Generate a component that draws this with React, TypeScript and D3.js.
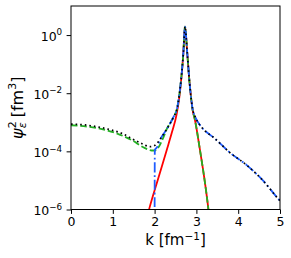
import React, { useEffect, useRef } from 'react';
import * as d3 from 'd3';

// k [fm^-1] and psi^2 [fm^3]
const kRed = [1.85, 1.873, 2.081, 2.289, 2.416, 2.524, 2.596, 2.687, 2.727, 2.782, 2.835, 2.866, 2.907, 2.967, 3.086, 3.206, 3.285, 3.31];
const psiRed = [8e-7, 1.07e-6, 1.1e-5, 1.1e-4, 4.6e-4, 1.8e-3, 8.1e-3, 0.23, 1.95, 0.23, 2.4e-2, 8.5e-3, 2.8e-3, 1.17e-3, 1.1e-4, 8.1e-6, 1.07e-6, 5e-7];

const kGreen = [0, 0.646, 1.12, 1.45, 1.77, 1.93, 2.01, 2.08, 2.2, 2.29, 2.45, 2.54, 2.6, 2.687, 2.727, 2.782, 2.835, 2.866, 2.907, 2.967, 3.086, 3.206, 3.285, 3.31];
const psiGreen = [7.9e-4, 6.2e-4, 4.0e-4, 2.45e-4, 1.29e-4, 1.07e-4, 1.07e-4, 1.29e-4, 2.8e-4, 5.8e-4, 1.5e-3, 3.1e-3, 1.1e-2, 0.23, 1.95, 0.23, 2.4e-2, 8.5e-3, 2.8e-3, 1.17e-3, 1.1e-4, 8.1e-6, 1.07e-6, 5e-7];

const kBlue = [2.0, 2.005, 2.06, 2.13, 2.29, 2.45, 2.54, 2.6, 2.687, 2.727, 2.782, 2.835, 2.866, 2.907, 2.967, 3.086, 3.206, 3.4, 3.8, 4.21, 4.59, 4.95, 5.0];
const psiBlue = [3e-7, 1.1e-4, 1.4e-4, 2.5e-4, 5.8e-4, 1.5e-3, 3.1e-3, 1.1e-2, 0.23, 1.95, 0.23, 2.4e-2, 8.5e-3, 3.0e-3, 1.6e-3, 7.9e-4, 5.1e-4, 3.1e-4, 9.1e-5, 3.3e-5, 1.0e-5, 2.4e-6, 2.0e-6];

const kBlack = [0, 0.335, 0.65, 0.97, 1.21, 1.45, 1.69, 1.89, 2.01, 2.13, 2.29, 2.45, 2.54, 2.6, 2.687, 2.727, 2.782, 2.835, 2.866, 2.907, 2.967, 3.086, 3.206, 3.4, 3.8, 4.21, 4.59, 4.95, 5.0];
const psiBlack = [8.7e-4, 8.1e-4, 6.9e-4, 5.4e-4, 4.2e-4, 2.75e-4, 1.86e-4, 1.45e-4, 1.62e-4, 2.6e-4, 5.8e-4, 1.5e-3, 3.1e-3, 1.1e-2, 0.23, 1.95, 0.23, 2.4e-2, 8.5e-3, 3.0e-3, 1.6e-3, 7.9e-4, 5.1e-4, 3.1e-4, 9.1e-5, 3.3e-5, 1.0e-5, 2.4e-6, 2.0e-6];

const xTicks = [0, 1, 2, 3, 4, 5];
const yTickExps = [0, -2, -4, -6];

const App = () => {
  const svgRef = useRef<SVGSVGElement>(null);

  useEffect(() => {
    const width = 291;
    const height = 258;
    const margin = { top: 6, right: 11, bottom: 48.5, left: 71 };

    const svg = d3.select(svgRef.current);
    svg.selectAll('*').remove();
    svg.attr('width', width).attr('height', height).style('font-family', 'DejaVu Sans');

    const x = d3.scaleLinear().domain([0, 5]).range([margin.left, width - margin.right]);
    const y = d3.scaleLog().domain([1e-6, 10]).range([height - margin.bottom, margin.top]);

    svg.append('clipPath').attr('id', 'plotclip')
      .append('rect')
      .attr('x', margin.left).attr('y', margin.top)
      .attr('width', width - margin.left - margin.right)
      .attr('height', height - margin.top - margin.bottom);

    const line = d3.line<[number, number]>()
      .x((d) => x(d[0]))
      .y((d) => y(d[1]))
      .curve(d3.curveMonotoneX);

    const lw = 1.8;
    const series = [
      { k: kRed, v: psiRed, color: '#ff0000', dash: null, w: lw },
      { k: kGreen, v: psiGreen, color: '#22b022', dash: '6.5,2.8', w: lw },
      { k: kBlue, v: psiBlue, color: '#1f5cff', dash: '10,2.8,1.8,2.8', w: lw },
      { k: kBlack, v: psiBlack, color: '#000000', dash: '1.6,3', w: 1.7 },
    ];

    const plot = svg.append('g').attr('clip-path', 'url(#plotclip)');
    series.forEach((s) => {
      plot.append('path')
        .datum(d3.zip(s.k, s.v) as [number, number][])
        .attr('d', line)
        .attr('fill', 'none')
        .attr('stroke', s.color)
        .attr('stroke-width', s.w)
        .attr('stroke-dasharray', s.dash);
    });

    // frame
    svg.append('rect')
      .attr('x', margin.left).attr('y', margin.top)
      .attr('width', width - margin.left - margin.right)
      .attr('height', height - margin.top - margin.bottom)
      .attr('fill', 'none').attr('stroke', '#000').attr('stroke-width', 1);

    // x axis
    const xAxis = svg.append('g')
      .attr('transform', `translate(0,${height - margin.bottom})`)
      .call(d3.axisBottom(x).tickValues(xTicks).tickSize(4.4).tickPadding(3.5).tickFormat(d3.format('d')));
    xAxis.select('.domain').remove();
    xAxis.attr('font-family', 'DejaVu Sans').attr('font-size', 12.5);
    xAxis.selectAll('text').attr('fill', '#000');

    // y axis ticks
    const yAxis = svg.append('g')
      .attr('transform', `translate(${margin.left},0)`)
      .call(d3.axisLeft(y).tickValues(yTickExps.map((e) => 10 ** e)).tickSize(4.4).tickFormat(() => ''));
    yAxis.select('.domain').remove();

    yTickExps.forEach((e) => {
      const t = svg.append('text')
        .attr('x', margin.left - 8.8)
        .attr('y', y(10 ** e) + 5.7)
        .attr('text-anchor', 'end')
        .attr('font-size', 12.5);
      t.append('tspan').text('10');
      t.append('tspan').attr('font-size', 8.75).attr('dy', -5.5).text(e === 0 ? '0' : `\u2212${-e}`);
    });

    // x label
    const xl = svg.append('text')
      .attr('x', (margin.left + width - margin.right) / 2)
      .attr('y', 245)
      .attr('text-anchor', 'middle')
      .attr('font-size', 15);
    xl.append('tspan').text('k [fm');
    xl.append('tspan').attr('font-size', 10.5).attr('dy', -5.5).text('\u22121');
    xl.append('tspan').attr('dy', 5.5).text(']');

    // y label
    const yl = svg.append('text')
      .attr('transform', `translate(22.5,${(margin.top + height - margin.bottom) / 2}) rotate(-90)`)
      .attr('text-anchor', 'middle')
      .attr('font-size', 16);
    yl.append('tspan').attr('font-style', 'italic').text('\u03c8');
    yl.append('tspan').attr('font-size', 11).attr('dy', -6.5).text('2');
    yl.append('tspan').attr('font-size', 11).attr('font-style', 'italic').attr('dx', -7).attr('dy', 10).text('\u03b5');
    yl.append('tspan').attr('dy', -3.5).text(' [fm');
    yl.append('tspan').attr('font-size', 11).attr('dy', -6.5).text('3');
    yl.append('tspan').attr('dy', 6.5).text(']');
  }, []);

  return <svg ref={svgRef} style={{ position: 'absolute', left: 0, top: 0 }} />;
};

export default App;
